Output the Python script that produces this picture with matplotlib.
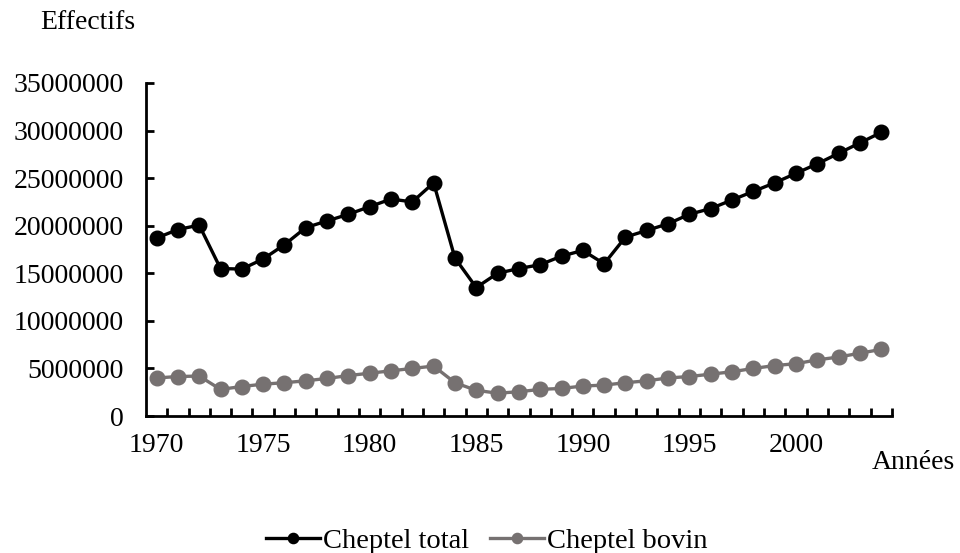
import matplotlib
matplotlib.use("Agg")
import matplotlib.pyplot as plt
import numpy as np
from matplotlib.ticker import FixedLocator, MultipleLocator

plt.rcParams['font.family'] = ['Liberation Serif', 'DejaVu Serif']

years = list(range(1970, 2005))
cheptel_total = [18.7, 19.6, 20.06, 15.5, 15.44, 16.5, 18.0, 19.8, 20.5, 21.2,
                 22.0, 22.8, 22.5, 24.5, 16.6, 13.5, 15.0, 15.5, 15.9, 16.8,
                 17.4, 16.0, 18.8, 19.5, 20.2, 21.2, 21.8, 22.7, 23.6, 24.5,
                 25.5, 26.5, 27.6, 28.7, 29.8]
cheptel_total = [v * 1e6 for v in cheptel_total]
cheptel_bovin = [4.0, 4.15, 4.2, 2.8, 3.1, 3.35, 3.5, 3.7, 3.95, 4.25,
                 4.5, 4.75, 5.0, 5.25, 3.5, 2.7, 2.4, 2.55, 2.8, 2.9,
                 3.15, 3.25, 3.5, 3.7, 4.0, 4.15, 4.4, 4.65, 5.0, 5.3,
                 5.5, 5.9, 6.2, 6.6, 7.0]
cheptel_bovin = [v * 1e6 for v in cheptel_bovin]
year_labels = [1970, 1975, 1980, 1985, 1990, 1995, 2000]
y_ticks = list(range(0, 35000001, 5000000))

FS = 20

fig = plt.figure(figsize=(9.6, 5.53), dpi=100)
ax = fig.add_axes([0.152, 0.2477, 0.777, 0.6023])

ax.plot(years, cheptel_total, color='black', lw=2.4, marker='o', ms=10.5,
        label='Cheptel total', clip_on=False, zorder=3)
ax.plot(years, cheptel_bovin, color='#767171', lw=2.4, marker='o', ms=10.5,
        label='Cheptel bovin', clip_on=False, zorder=3)

ax.set_xlim(1969.5, 2004.5)
ax.set_ylim(0, 35000000)
ax.set_yticks(y_ticks)
ax.set_yticklabels([str(v) for v in y_ticks])
ax.xaxis.set_major_locator(FixedLocator(year_labels))
ax.xaxis.set_minor_locator(FixedLocator([y + 0.5 for y in years]))
ax.tick_params(axis='x', which='major', length=0, labelsize=FS, pad=12)
ax.tick_params(axis='x', which='minor', direction='in', length=6, width=2)
ax.tick_params(axis='y', direction='in', length=6, width=2, labelsize=FS, pad=16)

for s in ['top', 'right']:
    ax.spines[s].set_visible(False)
for s in ['left', 'bottom']:
    ax.spines[s].set_linewidth(2)

fig.text(0.042, 0.96, 'Effectifs', fontsize=FS, va='center', ha='left')
fig.text(0.995, 0.164, 'Années', fontsize=FS, va='center', ha='right')

leg = fig.legend(loc='center', bbox_to_anchor=(0.507, 0.022), ncol=2, frameon=False,
                 fontsize=20.5, handlelength=1.9, handletextpad=0.1, columnspacing=0.75,
                 markerscale=0.7)

fig.savefig('out.png', dpi=100)
